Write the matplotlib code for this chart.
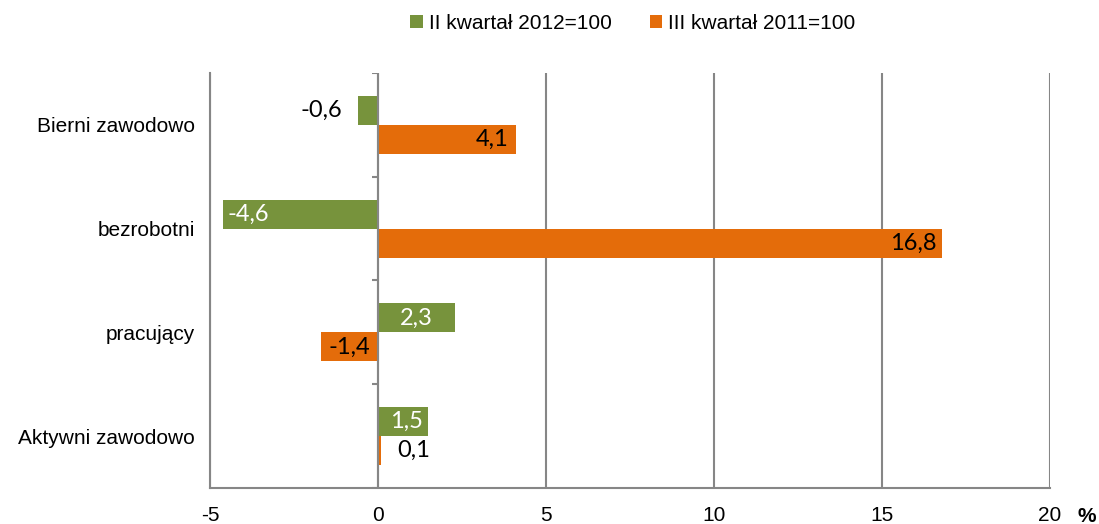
import numpy as np
import matplotlib.pyplot as plt

categories = ['Aktywni zawodowo', 'pracujący', 'bezrobotni', 'Bierni zawodowo']
series_names = ['II kwartał 2012=100', 'III kwartał 2011=100']
green_vals = [1.5, 2.3, -4.6, -0.6]
orange_vals = [0.1, -1.7, 16.8, 4.1]
green_labels = ['1,5', '2,3', '-4,6', '-0,6']
orange_labels = ['0,1', '-1,4', '16,8', '4,1']
x_ticks = [-5, 0, 5, 10, 15, 20]

GREEN = '#77933C'
ORANGE = '#E46C0A'
GRID = '#868686'

plt.rcParams['font.family'] = ['Liberation Sans', 'DejaVu Sans']

fig = plt.figure(figsize=(10.99, 5.24), dpi=100)
ax = fig.add_axes([0.191, 0.0687, 0.9554 - 0.191, 0.8607 - 0.0687])

y = np.arange(len(categories))
h = 0.28
ax.barh(y + h / 2, green_vals, height=h, color=GREEN, label=series_names[0], zorder=3)
ax.barh(y - h / 2, orange_vals, height=h, color=ORANGE, label=series_names[1], zorder=3)

ax.set_xlim(-5, 20)
ax.set_ylim(-0.5, 3.5)
ax.set_xticks(x_ticks)
ax.set_xticklabels([str(t) for t in x_ticks], fontsize=15)
ax.set_yticks(y)
ax.set_yticklabels(categories, fontsize=15)
ax.tick_params(axis='y', length=0, pad=11)
ax.tick_params(axis='x', length=0, pad=13)

ax.grid(axis='x', color=GRID, linewidth=1.5, zorder=0)
for s in ['top', 'right']:
    ax.spines[s].set_visible(False)
for s in ['left', 'bottom']:
    ax.spines[s].set_color(GRID)
    ax.spines[s].set_linewidth(1.5)

# zero axis with small tick marks at category boundaries
ax.axvline(0, color=GRID, linewidth=1.5, zorder=4)
ax.hlines(np.arange(-0.5, 4, 1.0), -0.18, 0, color=GRID, linewidth=1.5, zorder=4)

# data labels: (mode, pad px, color)
green_pos = [('in', 5, 'white'), ('center', 0, 'white'), ('in', 4, 'white'), ('out', 16, 'black')]
orange_pos = [('out', 16, 'black'), ('in', 8, 'black'), ('in', 6, 'black'), ('in', 7, 'black')]


def put_labels(vals, labels, pos, yy):
    for v, lab, (mode, pad, col), yc in zip(vals, labels, pos, yy):
        sign = 1 if v >= 0 else -1
        if mode == 'center':
            ax.annotate(lab, (v / 2, yc), ha='center', va='center',
                        fontsize=17, family='Lato', color=col, zorder=5)
            continue
        if mode == 'in':
            dx = -sign * pad
            ha = 'right' if sign > 0 else 'left'
        else:
            dx = sign * pad
            ha = 'left' if sign > 0 else 'right'
        ax.annotate(lab, (v, yc), xytext=(dx, 0), textcoords='offset pixels',
                    ha=ha, va='center', fontsize=17, family='Lato', color=col, zorder=5)


put_labels(green_vals, green_labels, green_pos, y + h / 2)
put_labels(orange_vals, orange_labels, orange_pos, y - h / 2)

fig.legend(loc='upper center', bbox_to_anchor=(0.576, 1.01), ncol=2, frameon=False,
           fontsize=15, handlelength=0.6, handleheight=0.6, handletextpad=0.3,
           columnspacing=1.8)

fig.text(0.997, 0.004, '%', fontsize=15, fontweight='bold', ha='right', va='baseline')

fig.savefig('out.png', dpi=100)
